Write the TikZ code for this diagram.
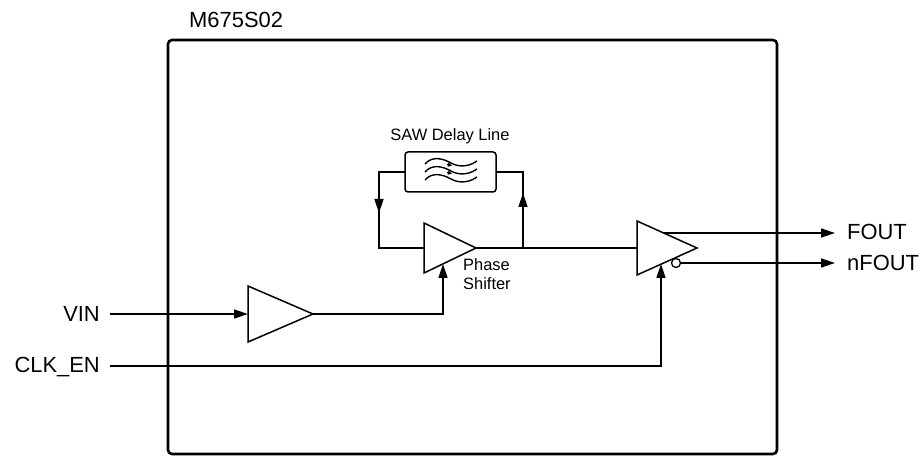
\documentclass[tikz,border=0pt]{standalone}
\usepackage{fontspec}
\setmainfont{Liberation Sans}
\usetikzlibrary{arrows.meta}
\begin{document}
\begin{tikzpicture}[x=1bp,y=-1bp,
  wire/.style={line width=1.5bp},
  arr/.style={wire,-{Triangle[length=14bp,width=9bp]}},
  buf/.style={line width=1.5bp},
  biglbl/.style={font=\fontsize{22}{25}\selectfont, inner sep=0pt},
  smalllbl/.style={font=\fontsize{16.5}{19}\selectfont, inner sep=0pt}]
\useasboundingbox (0,0) rectangle (921,456);
% outer box
\draw[line width=2.6bp, rounded corners=4bp] (168,40) rectangle (777,454);
\node[biglbl, anchor=base west] (title) at (189,28) {M675S02};
% SAW delay line
\draw[line width=1.5bp, rounded corners=3bp] (405,152) rectangle (496,192);
\coordinate (sawL) at (405,172);
\coordinate (sawR) at (496,172);
\node[smalllbl, anchor=base] (sawlbl) at (450,141) {SAW Delay Line};
\foreach \yy in {163,171,179}{
  \draw[line width=1.4bp] (425,\yy+1) .. controls (432,\yy-7) and (442,\yy-5) .. (451,\yy) .. controls (460,\yy+5) and (470,\yy+3) .. (477,\yy-2);
}
\draw[line width=1bp,-{Triangle[length=4bp,width=4bp]}] (447,164.5) -- (452,165.5);
\draw[line width=1bp,-{Triangle[length=4bp,width=4bp]}] (447,172.5) -- (452,173.5);
% phase shifter
\coordinate (psA) at (424,223);
\coordinate (psB) at (424,273);
\coordinate (psO) at (476,248);
\draw[buf] (psA) -- (psB) -- (psO) -- cycle;
\coordinate (psIn) at (424,248);
\coordinate (psCtl) at (443,264);
\node[smalllbl, anchor=base west] (pslbl) at (463,271) {Phase};
\node[smalllbl, anchor=base west] (pslbl2) at (463,290) {Shifter};
% loop
\coordinate (lTop) at (379,172);
\coordinate (lBot) at (379,248);
\coordinate (rBot) at (523,248);
\coordinate (rTop) at (523,172);
\draw[wire] (sawL) -- (lTop) -- (lBot) -- (psIn);
\draw[arr] (lTop) -- (379,213);
\draw[wire] (psO) -- (rBot) -- (rTop) -- (sawR);
\draw[arr] (rBot) -- (523,193);
% input buffer
\coordinate (ibA) at (248,286);
\coordinate (ibB) at (248,342);
\coordinate (ibO) at (313,314);
\draw[buf] (ibA) -- (ibB) -- (ibO) -- cycle;
\coordinate (ibIn) at (248,314);
% output buffer
\coordinate (obA) at (637,221);
\coordinate (obB) at (637,275);
\coordinate (obO) at (697,248);
\draw[buf] (obA) -- (obB) -- (obO) -- cycle;
\coordinate (obIn) at (637,248);
\coordinate (obCtl) at (661,264);
\coordinate (obP) at (664,233);
\node[circle, draw, line width=1.3bp, minimum size=9bp, inner sep=0pt, fill=white] (bub) at (676,263) {};
% labels
\node[biglbl, anchor=base east] (vin) at (100,322) {VIN};
\node[biglbl, anchor=base east] (clk) at (100,373) {CLK\_EN};
\node[biglbl, anchor=base west] (fout) at (847,240) {FOUT};
\node[biglbl, anchor=base west] (nfout) at (847,271) {nFOUT};
\coordinate (vinE) at (110,314);
\coordinate (clkE) at (110,366);
\coordinate (foutW) at (835,233);
\coordinate (nfoutW) at (835,263);
% connections
\draw[arr] (vinE) -- (ibIn);
\draw[arr] (ibO) -- (443,314) -- (psCtl);
\draw[wire] (rBot) -- (obIn);
\draw[arr] (clkE) -- (661,366) -- (obCtl);
\draw[arr] (obP) -- (foutW);
\draw[arr] (bub.east) -- (nfoutW);
\end{tikzpicture}
\end{document}
